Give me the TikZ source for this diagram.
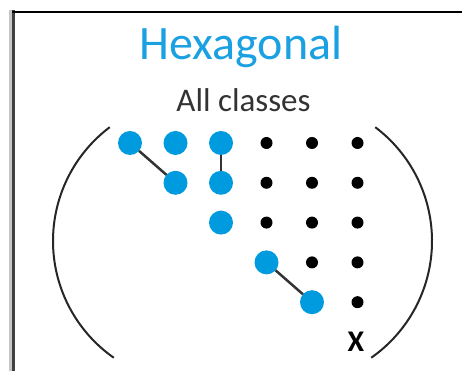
\documentclass[tikz,border=0pt]{standalone}
\usepackage{fontspec}
\setmainfont{Carlito}
\usetikzlibrary{positioning}

\definecolor{hexblue}{RGB}{0,155,222}
\definecolor{titleblue}{RGB}{27,161,226}

\tikzset{
  bigdot/.style={circle, fill=hexblue, minimum size=24, inner sep=0},
  smalldot/.style={circle, fill=black, minimum size=12, inner sep=0},
  link/.style={draw=black!80, line width=2.5},
  paren/.style={draw=black!85, line width=2},
}

\begin{document}
\begin{tikzpicture}[x=1pt, y=1pt, inner sep=0, outer sep=0]
  \useasboundingbox (0,0) rectangle (462,371);

  % frame
  \draw[line width=3, draw=gray!45] (10.5,0) -- (10.5,360.5);
  \draw[line width=3, draw=black!75] (13.5,0) -- (13.5,360.5);
  \draw[line width=2.5, draw=black] (12,359) -- (462,359);

  \node[anchor=base, text=titleblue, font=\fontsize{48}{56}\selectfont] (title) at (241,311) {Hexagonal};
  \node[anchor=base, text=black!80, font=\fontsize{33}{40}\selectfont] (sub) at (243.5,259) {All classes};

  % row 1
  \node[bigdot] (e11) at (130,228) {};
  \node[bigdot] (e12) at (175.5,228) {};
  \node[bigdot] (e13) at (221,228) {};
  \node[smalldot] (e14) at (266.5,228) {};
  \node[smalldot] (e15) at (312,228) {};
  \node[smalldot] (e16) at (357.5,228) {};
  % row 2
  \node[bigdot] (e22) at (175.5,188.2) {};
  \node[bigdot] (e23) at (221,188.2) {};
  \node[smalldot] (e24) at (266.5,188.2) {};
  \node[smalldot] (e25) at (312,188.2) {};
  \node[smalldot] (e26) at (357.5,188.2) {};
  % row 3
  \node[bigdot] (e33) at (221,148.4) {};
  \node[smalldot] (e34) at (266.5,148.4) {};
  \node[smalldot] (e35) at (312,148.4) {};
  \node[smalldot] (e36) at (357.5,148.4) {};
  % row 4
  \node[bigdot] (e44) at (266.5,108.6) {};
  \node[smalldot] (e45) at (312,108.6) {};
  \node[smalldot] (e46) at (357.5,108.6) {};
  % row 5
  \node[bigdot] (e55) at (312,68.8) {};
  \node[smalldot] (e56) at (357.5,68.8) {};
  % row 6
  \node[font=\bfseries\fontsize{30}{36}\selectfont] (e66) at (356,29) {X};

  \draw[link] (e11) -- (e22);
  \draw[link] (e13) -- (e23);
  \draw[link] (e44) -- (e55);

  % brackets
  \coordinate (lc) at (195.5,130);
  \coordinate (rc) at (289.5,130);
  \draw[paren] ([shift={(127:142.5)}]lc) arc[start angle=127, end angle=235, radius=142.5];
  \draw[paren] ([shift={(53:142.5)}]rc) arc[start angle=53, end angle=-55, radius=142.5];
\end{tikzpicture}
\end{document}
